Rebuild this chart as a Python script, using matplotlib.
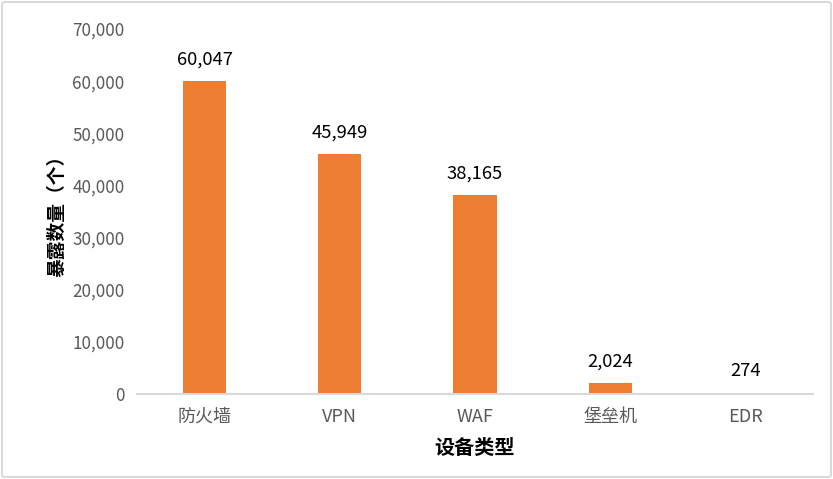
import matplotlib.pyplot as plt
from matplotlib.patches import FancyBboxPatch

plt.rcParams['font.family'] = ['Noto Sans CJK SC', 'DejaVu Sans']

# 设备类型 / 暴露数量
categories = ['防火墙', 'VPN', 'WAF', '堡垒机', 'EDR']
counts = [60047, 45949, 38165, 2024, 274]
yticks = [0, 10000, 20000, 30000, 40000, 50000, 60000, 70000]

W, H = 833, 479
fig = plt.figure(figsize=(W / 100, H / 100), dpi=100)
# 外框
fig.patches.append(FancyBboxPatch((2 / W, 2 / H), 1 - 4 / W, 1 - 4 / H,
                                  boxstyle='round,pad=0,rounding_size=0.004',
                                  transform=fig.transFigure, fill=False,
                                  edgecolor='#D9D9D9', linewidth=1.5))

ax = fig.add_axes([137 / W, (H - 394) / H, (813 - 137) / W, (394 - 29) / H])
x = range(len(categories))
bars = ax.bar(x, counts, width=0.32, color='#ED7D31')

for b, v in zip(bars, counts):
    ax.annotate(f'{v:,}', (b.get_x() + b.get_width() / 2, v),
                xytext=(0, 9), textcoords='offset points',
                ha='center', va='bottom', fontsize=13.3, color='black')

ax.set_xlim(-0.5, len(categories) - 0.5)
ax.set_ylim(0, 70000)
ax.set_yticks(yticks)
ax.set_yticklabels([f'{t:,}' for t in yticks])
ax.set_xticks(list(x))
ax.set_xticklabels(categories)
ax.tick_params(axis='both', length=0, labelsize=12.3, labelcolor='#595959')
ax.tick_params(axis='x', labelsize=13)
ax.tick_params(axis='y', pad=9)
ax.tick_params(axis='x', pad=10)

for s in ['top', 'right', 'left']:
    ax.spines[s].set_visible(False)
ax.spines['bottom'].set_color('#D9D9D9')
ax.spines['bottom'].set_linewidth(1.5)

ax.set_ylabel('暴露数量（个）', fontsize=13.5, fontweight='bold', color='black', labelpad=4)
ax.set_xlabel('设备类型', fontsize=14.5, fontweight='bold', color='black', labelpad=8)

fig.savefig('out.png', dpi=100)
